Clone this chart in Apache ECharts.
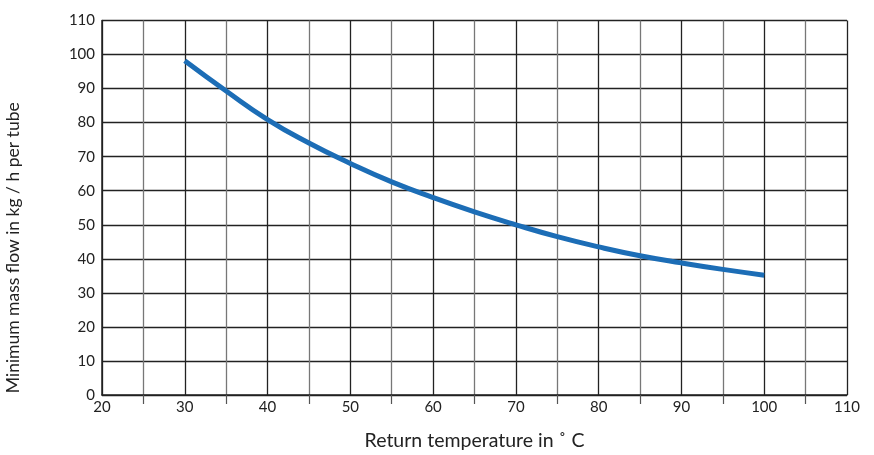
<!DOCTYPE html>
<html>
<head>
<meta charset="utf-8">
<script src="https://cdn.jsdelivr.net/npm/echarts@6/dist/echarts.min.js"></script>
<style>html,body{margin:0;padding:0;background:#fff}#c{width:874px;height:455px}</style>
</head>
<body>
<div id="c"></div>
<script>
var temps = [30, 35, 40, 45, 50, 55, 60, 65, 70, 75, 80, 85, 90, 95, 100];
var flows = [98.2, 89.3, 80.9, 74.0, 68.0, 62.6, 58.0, 53.8, 50.0, 46.5, 43.5, 40.9, 38.8, 36.9, 35.2];
var xName = 'Return temperature in ˚ C';
var yName = 'Minimum mass flow in kg / h per tube';

var chart = echarts.init(document.getElementById('c'));
var font = 'Lato, "Open Sans", sans-serif';
chart.setOption({
  animation: false,
  grid: {left: 102, right: 27, top: 20.5, bottom: 60, outerBoundsMode: 'none', containLabel: false},
  xAxis: {
    type: 'value', min: 20, max: 110, interval: 10,
    name: xName, nameLocation: 'middle', nameGap: 36,
    nameTextStyle: {color: '#222', fontSize: 19.5, fontFamily: font},
    axisLine: {show: true, onZero: false, lineStyle: {color: '#222', width: 1.5}},
    axisTick: {show: false},
    minorTick: {show: true, splitNumber: 2, length: 9, lineStyle: {color: '#555', width: 1.2}},
    minorSplitLine: {show: true, lineStyle: {color: '#777', width: 1.3}},
    splitLine: {show: true, lineStyle: {color: '#222', width: 1.3}},
    axisLabel: {color: '#222', fontSize: 15, fontFamily: font, margin: 5}
  },
  yAxis: {
    type: 'value', min: 0, max: 110, interval: 10,
    name: yName, nameLocation: 'middle', nameGap: 80,
    nameTextStyle: {color: '#222', fontSize: 17.5, fontFamily: font, padding: [0, 80, 0, 0]},
    axisLine: {show: true, onZero: false, lineStyle: {color: '#222', width: 1.5}},
    axisTick: {show: false},
    splitLine: {show: true, lineStyle: {color: '#222', width: 1.3}},
    axisLabel: {color: '#222', fontSize: 15, fontFamily: font, margin: 7}
  },
  series: [{
    type: 'line', smooth: true, showSymbol: false,
    data: temps.map(function (t, i) { return [t, flows[i]]; }),
    lineStyle: {color: '#1c6db6', width: 5}
  }]
});
</script>
</body>
</html>
